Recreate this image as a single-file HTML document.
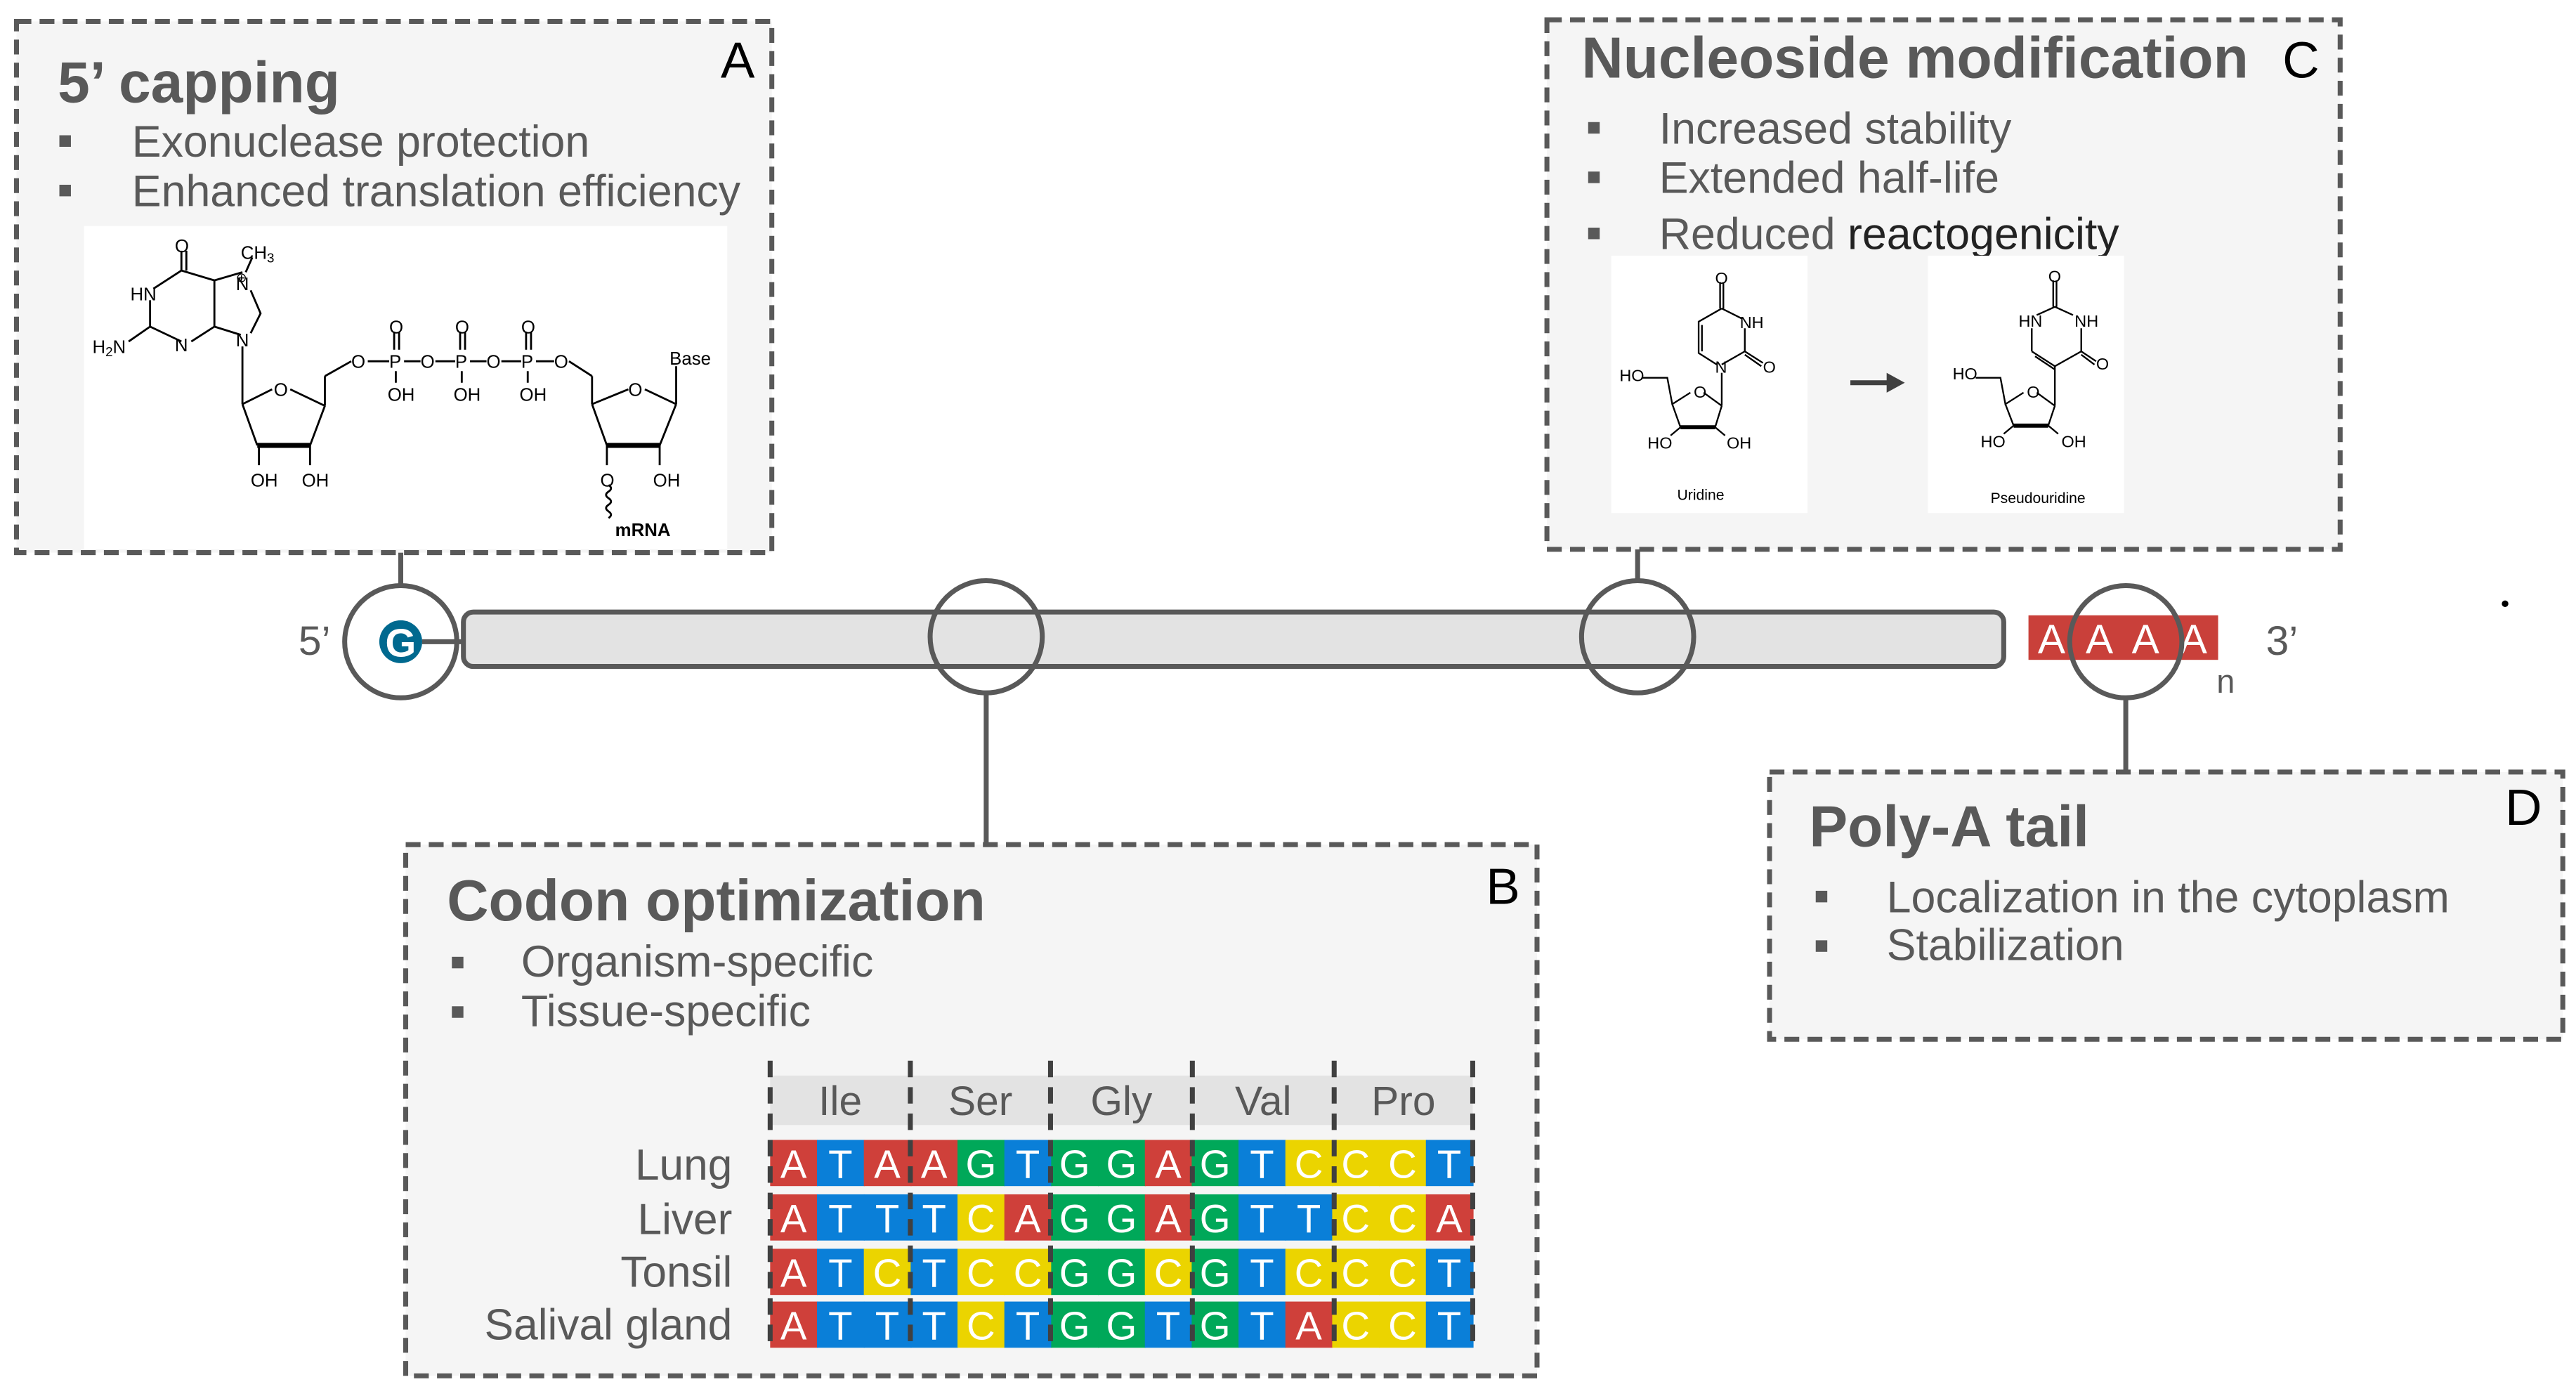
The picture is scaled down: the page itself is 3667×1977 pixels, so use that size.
<!DOCTYPE html>
<html><head><meta charset="utf-8"><style>
html,body{margin:0;padding:0;background:#fff;}
svg{display:block;}
text{font-family:"Liberation Sans",Arial,sans-serif;}
</style></head><body>
<svg width="3667" height="1977" viewBox="0 0 1562 842" preserveAspectRatio="none" xmlns="http://www.w3.org/2000/svg">
<rect width="1562" height="842" fill="#fff"/>
<g stroke="#595959" stroke-width="3" fill="none">
<line x1="243" y1="335" x2="243" y2="356"/>
<line x1="598" y1="420" x2="598" y2="511"/>
<line x1="993" y1="333" x2="993" y2="352"/>
<line x1="1289" y1="422" x2="1289" y2="467"/>
</g>
<g fill="#f5f5f5" stroke="#595959" stroke-width="3" stroke-dasharray="9,5">
<rect x="10" y="13" width="458" height="322"/>
<rect x="246" y="512" width="686" height="322"/>
<rect x="938" y="12" width="481" height="321"/>
<rect x="1073" y="468" width="481" height="162"/>
</g>
<!-- Box A -->
<text x="35" y="62" font-size="35" font-weight="bold" fill="#595959">5’ capping</text>
<text x="437" y="47" font-size="31" fill="#000">A</text>
<rect x="36" y="82" width="7" height="7" fill="#595959"/>
<rect x="36" y="112" width="7" height="7" fill="#595959"/>
<text x="80" y="95" font-size="26.7" fill="#595959">Exonuclease protection</text>
<text x="80" y="125" font-size="26.7" fill="#595959">Enhanced translation efficiency</text>
<rect x="51" y="137" width="390" height="196" fill="#fff"/>
<g stroke="#000" stroke-width="1.2" fill="none">
<line x1="110" y1="152" x2="110" y2="164"/><line x1="113" y1="152" x2="113" y2="164"/>
<polyline points="93,175 110,164 130,170 147,165"/>
<line x1="153" y1="156" x2="149" y2="165"/>
<line x1="91" y1="182" x2="91" y2="198"/>
<polyline points="91,198 110,207"/><polyline points="78,207 91,198"/>
<polyline points="116,207 130,198 130,170"/>
<polyline points="130,198 146,203"/>
<polyline points="152,176 158,190 152,202"/>
<line x1="147" y1="210" x2="147" y2="245"/>
<polyline points="147,245 165,236"/><polyline points="176,236 197,246"/>
<line x1="147" y1="245" x2="156" y2="270"/><line x1="197" y1="246" x2="188" y2="270"/>
<line x1="156" y1="270" x2="188" y2="270" stroke-width="3"/>
<line x1="157" y1="270" x2="157" y2="282"/><line x1="188" y1="270" x2="188" y2="282"/>
<line x1="197" y1="246" x2="197" y2="228"/><line x1="197" y1="228" x2="213" y2="219"/>
<line x1="223" y1="219" x2="236" y2="219"/><line x1="245" y1="219" x2="255" y2="219"/>
<line x1="264" y1="219" x2="276" y2="219"/><line x1="285" y1="219" x2="295" y2="219"/>
<line x1="304" y1="219" x2="316" y2="219"/><line x1="325" y1="219" x2="336" y2="219"/>
<line x1="239" y1="201" x2="239" y2="212"/><line x1="242" y1="201" x2="242" y2="212"/>
<line x1="279" y1="201" x2="279" y2="212"/><line x1="282" y1="201" x2="282" y2="212"/>
<line x1="319" y1="201" x2="319" y2="212"/><line x1="322" y1="201" x2="322" y2="212"/>
<line x1="240" y1="225" x2="240" y2="232"/><line x1="280" y1="225" x2="280" y2="232"/><line x1="320" y1="225" x2="320" y2="232"/>
<line x1="345" y1="219" x2="359" y2="228"/><line x1="359" y1="228" x2="359" y2="245"/>
<polyline points="359,245 381,236"/><polyline points="391,236 410,245"/>
<line x1="359" y1="245" x2="368" y2="270"/><line x1="410" y1="245" x2="400" y2="270"/>
<line x1="368" y1="270" x2="400" y2="270" stroke-width="3"/>
<line x1="368" y1="270" x2="368" y2="282"/><line x1="400" y1="270" x2="400" y2="282"/>
<line x1="410" y1="245" x2="410" y2="222"/>
<path d="M369,294 q3,2 0,4 q-3,2 0,4 q3,2 0,4 q-3,2 0,4 q3,2 0,4"/>
</g>
<g font-size="11" fill="#000">
<text x="106" y="153">O</text><text x="146" y="157">CH<tspan font-size="8" dy="2">3</tspan></text>
<text x="79" y="182">HN</text><text x="143" y="176">N</text>
<text x="143" y="171" font-size="8">⊕</text>
<text x="56" y="214">H<tspan font-size="8" dy="2">2</tspan><tspan dy="-2">N</tspan></text>
<text x="106" y="213">N</text><text x="143" y="210">N</text>
<text x="166" y="240">O</text>
<text x="152" y="295">OH</text><text x="183" y="295">OH</text>
<text x="213" y="223">O</text><text x="236" y="223">P</text><text x="255" y="223">O</text><text x="276" y="223">P</text><text x="295" y="223">O</text><text x="316" y="223">P</text><text x="336" y="223">O</text>
<text x="236" y="202">O</text><text x="276" y="202">O</text><text x="316" y="202">O</text>
<text x="235" y="243">OH</text><text x="275" y="243">OH</text><text x="315" y="243">OH</text>
<text x="381" y="240">O</text><text x="406" y="221">Base</text>
<text x="364" y="295">O</text><text x="396" y="295">OH</text>
<text x="373" y="325" font-weight="bold">mRNA</text>
</g>
<!-- Box B -->
<text x="271" y="558" font-size="35" font-weight="bold" fill="#595959">Codon optimization</text>
<text x="901" y="548" font-size="31" fill="#000">B</text>
<rect x="274" y="580" width="7" height="7" fill="#595959"/>
<rect x="274" y="610" width="7" height="7" fill="#595959"/>
<text x="316" y="592" font-size="26.7" fill="#595959">Organism-specific</text>
<text x="316" y="622" font-size="26.7" fill="#595959">Tissue-specific</text>
<rect x="467" y="652" width="426" height="30" fill="#e3e3e3"/>
<g font-size="25" fill="#595959" text-anchor="middle">
<text x="509.5" y="676">Ile</text><text x="594.5" y="676">Ser</text><text x="680" y="676">Gly</text><text x="766" y="676">Val</text><text x="851" y="676">Pro</text>
</g>
<g font-size="26.5" fill="#595959" text-anchor="end">
<text x="444" y="715">Lung</text><text x="444" y="748">Liver</text><text x="444" y="780">Tonsil</text><text x="444" y="812">Salival gland</text>
</g>
<g id="seq" font-size="24" fill="#fff" text-anchor="middle"></g>
<g stroke="#404040" stroke-width="3" stroke-dasharray="10,6">
<line x1="467" y1="643" x2="467" y2="818"/><line x1="552" y1="643" x2="552" y2="818"/><line x1="637" y1="643" x2="637" y2="818"/><line x1="723" y1="643" x2="723" y2="818"/><line x1="809" y1="643" x2="809" y2="818"/><line x1="893" y1="643" x2="893" y2="818"/>
</g>
<!-- Box C -->
<text x="959" y="47" font-size="35" font-weight="bold" fill="#595959">Nucleoside modification</text>
<text x="1384" y="47" font-size="31" fill="#000">C</text>
<rect x="963" y="74" width="7" height="7" fill="#595959"/>
<rect x="963" y="104" width="7" height="7" fill="#595959"/>
<rect x="963" y="138" width="7" height="7" fill="#595959"/>
<text x="1006" y="87" font-size="26.7" fill="#595959">Increased stability</text>
<text x="1006" y="117" font-size="26.7" fill="#595959">Extended half-life</text>
<text x="1006" y="151" font-size="26.7" fill="#595959">Reduced <tspan fill="#222">reactogenicity</tspan></text>
<rect x="977" y="155" width="119" height="156" fill="#fff"/>
<rect x="1169" y="155" width="119" height="156" fill="#fff"/>
<g stroke="#000" stroke-width="1" fill="none">
<line x1="1043" y1="171" x2="1043" y2="187"/><line x1="1045" y1="171" x2="1045" y2="187"/>
<polyline points="1044,187 1056,193"/><polyline points="1058,199 1058,213 1044,221"/>
<line x1="1058" y1="213" x2="1069" y2="220"/><line x1="1058" y1="215" x2="1068" y2="222"/>
<polyline points="1044,187 1030,195 1030,214 1041,221"/><line x1="1032" y1="197" x2="1032" y2="213"/>
<line x1="1044" y1="226" x2="1044" y2="246"/>
<polyline points="1044,246 1033,238"/><polyline points="1025,238 1014,245 1011,229 996,229"/>
<line x1="1014" y1="245" x2="1019" y2="259"/><line x1="1044" y1="246" x2="1040" y2="259"/>
<line x1="1019" y1="259" x2="1040" y2="259" stroke-width="2.5"/>
<line x1="1019" y1="259" x2="1013" y2="264"/><line x1="1040" y1="259" x2="1046" y2="264"/>
<line x1="1245" y1="170" x2="1245" y2="186"/><line x1="1247" y1="170" x2="1247" y2="186"/>
<polyline points="1235,191 1246,186 1257,191"/>
<line x1="1232" y1="199" x2="1232" y2="213"/><line x1="1262" y1="199" x2="1262" y2="213"/>
<polyline points="1232,213 1246,222 1262,213"/><line x1="1234" y1="216" x2="1246" y2="224"/>
<line x1="1262" y1="213" x2="1271" y2="219"/><line x1="1262" y1="215" x2="1270" y2="221"/>
<line x1="1246" y1="222" x2="1246" y2="246"/>
<polyline points="1246,246 1235,238"/><polyline points="1227,238 1216,245 1213,229 1198,229"/>
<line x1="1216" y1="245" x2="1221" y2="258"/><line x1="1246" y1="246" x2="1242" y2="258"/>
<line x1="1221" y1="258" x2="1242" y2="258" stroke-width="2.5"/>
<line x1="1221" y1="258" x2="1215" y2="263"/><line x1="1242" y1="258" x2="1248" y2="263"/>
</g>
<g font-size="10" fill="#000">
<text x="1040" y="172">O</text><text x="1055" y="199">NH</text><text x="1069" y="226">O</text><text x="1040" y="226">N</text>
<text x="1027" y="241">O</text><text x="982" y="231">HO</text><text x="999" y="272">HO</text><text x="1047" y="272">OH</text>
<text x="1017" y="303" font-size="9">Uridine</text>
<text x="1242" y="171">O</text><text x="1224" y="198">HN</text><text x="1258" y="198">NH</text><text x="1271" y="224">O</text>
<text x="1229" y="241">O</text><text x="1184" y="230">HO</text><text x="1201" y="271">HO</text><text x="1250" y="271">OH</text>
<text x="1207" y="305" font-size="9">Pseudouridine</text>
</g>
<line x1="1122" y1="232" x2="1146" y2="232" stroke="#404040" stroke-width="3"/>
<polygon points="1144,226 1155,232 1144,238" fill="#404040"/>
<!-- Box D -->
<text x="1097" y="513" font-size="35" font-weight="bold" fill="#595959">Poly-A tail</text>
<text x="1519" y="500" font-size="31" fill="#000">D</text>
<rect x="1101" y="540" width="7" height="7" fill="#595959"/>
<rect x="1101" y="570" width="7" height="7" fill="#595959"/>
<text x="1144" y="553" font-size="26.7" fill="#595959">Localization in the cytoplasm</text>
<text x="1144" y="582" font-size="26.7" fill="#595959">Stabilization</text>
<!-- mRNA -->
<rect x="281" y="371" width="934" height="33" rx="6" fill="#e3e3e3" stroke="#595959" stroke-width="3"/>
<line x1="256" y1="389" x2="281" y2="389" stroke="#595959" stroke-width="3"/>
<circle cx="243" cy="389" r="13" fill="#00698f"/>
<text x="243" y="398" font-size="24" font-weight="bold" fill="#fff" text-anchor="middle">G</text>
<text x="181" y="397" font-size="25" fill="#595959">5’</text>
<rect x="1230" y="373" width="115" height="27" fill="#c9403a"/>
<g font-size="25" fill="#fff" text-anchor="middle">
<text x="1244" y="396">A</text><text x="1273" y="396">A</text><text x="1301" y="396">A</text><text x="1330" y="396">A</text>
</g>
<text x="1344" y="420" font-size="20" fill="#595959">n</text>
<text x="1374" y="397" font-size="25" fill="#595959">3’</text>
<circle cx="1519" cy="366" r="2" fill="#000"/>
<g fill="none" stroke="#595959" stroke-width="3">
<circle cx="243" cy="389" r="34"/><circle cx="598" cy="386" r="34"/><circle cx="993" cy="386" r="34"/><circle cx="1289" cy="389" r="34"/>
</g>
<script>
(function(){
var rows=["ATAAGTGGAGTCCCT","ATTTCAGGAGTTCCA","ATCTCCGGCGTCCCT","ATTTCTGGTGTACCT"];
var ys=[691,724,757,789];
var col={A:"#cf403a",T:"#0a7fd8",G:"#00a859",C:"#ebd400"};
var g=document.getElementById("seq");var ns="http://www.w3.org/2000/svg";
var w=426/15;
rows.forEach(function(r,i){for(var j=0;j<15;j++){var c=r[j];
var rc=document.createElementNS(ns,"rect");rc.setAttribute("x",467+j*w);rc.setAttribute("y",ys[i]);rc.setAttribute("width",w+0.5);rc.setAttribute("height",28);rc.setAttribute("fill",col[c]);g.appendChild(rc);
var t=document.createElementNS(ns,"text");t.setAttribute("x",467+j*w+w/2);t.setAttribute("y",ys[i]+23);t.textContent=c;g.appendChild(t);}});
})();
</script>
</svg>
</body></html>
